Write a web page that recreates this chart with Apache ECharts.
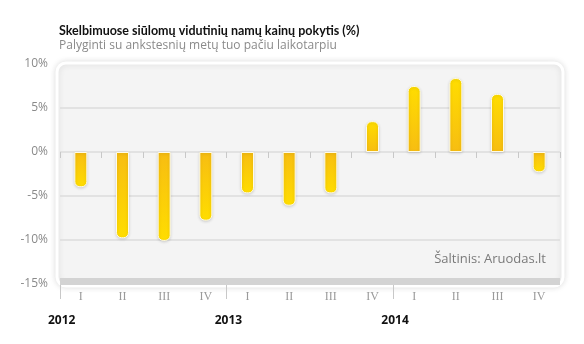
<!DOCTYPE html>
<html>
<head>
<meta charset="utf-8">
<script src="https://cdn.jsdelivr.net/npm/echarts@6/dist/echarts.min.js"></script>
<style>
  html, body { margin: 0; padding: 0; background: #fff; }
  #chart { width: 584px; height: 344px; }
</style>
</head>
<body>
<div id="chart"></div>
<script>
// Quarterly change of average asking house prices, % year on year
const quarters = ['I', 'II', 'III', 'IV', 'I', 'II', 'III', 'IV', 'I', 'II', 'III', 'IV'];
const changes = [-4.0, -9.8, -10.1, -7.8, -4.7, -6.1, -4.7, 3.5, 7.5, 8.4, 6.6, -2.3];
// Year markers sit on the boundaries between quarter groups
const yearSlots = ['2012', '', '', '', '2013', '', '', '', '2014', '', '', '', ''];
const yTicks = { min: -15, max: 10, step: 5 };

const titleText = 'Skelbimuose siūlomų vidutinių namų kainų pokytis (%)';
const subtitleText = 'Palyginti su ankstesnių metų tuo pačiu laikotarpiu';
const sourceText = 'Šaltinis: Aruodas.lt';

const FONT = '"Open Sans", "Noto Sans", sans-serif';
const DARK = '#f7bd12';
const LIGHT = '#ffdd00';

function barItem(v) {
  const neg = v < 0;
  return {
    value: v,
    itemStyle: {
      color: {
        type: 'linear', x: 0, y: 0, x2: 0, y2: 1,
        colorStops: neg
          ? [{ offset: 0, color: DARK }, { offset: 1, color: LIGHT }]
          : [{ offset: 0, color: LIGHT }, { offset: 1, color: DARK }]
      },
      borderRadius: neg ? [0, 0, 5, 5] : [5, 5, 0, 0]
    }
  };
}

const chart = echarts.init(document.getElementById('chart'), null, { renderer: 'canvas' });

const gridLeft = 60, gridRight = 24, gridTop = 64, gridBottom = 60;

chart.setOption({
  animation: false,
  backgroundColor: '#ffffff',
  title: {
    text: titleText,
    subtext: subtitleText,
    left: 54, top: 19,
    itemGap: 3,
    textStyle: { fontFamily: 'Lato, "Open Sans", sans-serif', fontSize: 12.5, fontWeight: 'bold', color: '#111' },
    subtextStyle: { fontFamily: FONT, fontSize: 12, color: '#8a8a8a' }
  },
  graphic: [
    {
      // rounded panel behind the plot
      type: 'rect', z: -10,
      shape: { x: 57, y: 63, width: 506, height: 223, r: 9 },
      style: {
        fill: '#f4f4f4', stroke: '#ffffff', lineWidth: 3,
        shadowBlur: 6, shadowColor: 'rgba(0,0,0,0.12)'
      }
    },
    {
      // grey base band along the bottom of the plot
      type: 'rect', z: 1,
      shape: { x: 60, y: 278, width: 500, height: 7 },
      style: { fill: '#d3d3d3' }
    },
    {
      type: 'text', z: 5,
      right: 38, top: 253,
      style: { text: sourceText, font: '13px ' + FONT, fill: '#7a7a7a' }
    }
  ],
  grid: { left: gridLeft, right: gridRight, top: gridTop, bottom: gridBottom, containLabel: false },
  xAxis: [
    {
      type: 'category',
      data: quarters,
      position: 'bottom',
      axisLine: { show: false },
      axisTick: { show: true, length: 6, lineStyle: { color: '#c8c8c8' } },
      axisLabel: {
        margin: 7, fontFamily: '"Liberation Serif", "DejaVu Serif", serif',
        fontSize: 12, color: '#9a9a9a'
      }
    },
    {
      type: 'category',
      data: yearSlots,
      position: 'bottom',
      boundaryGap: false,
      axisLine: { show: false },
      axisTick: {
        show: true, length: 15,
        interval: function (i) { return i % 4 === 0 && i < 12; },
        lineStyle: { color: '#c8c8c8' }
      },
      axisLabel: {
        interval: 0, margin: 31, align: 'left',
        fontFamily: FONT, fontSize: 12, fontWeight: 'bold', color: '#111',
        formatter: function (v) { return v; },
        padding: [0, 0, 0, -12]
      }
    }
  ],
  yAxis: {
    type: 'value',
    min: yTicks.min, max: yTicks.max, interval: yTicks.step,
    axisLine: { show: false },
    axisTick: { show: false },
    axisLabel: {
      margin: 12, fontFamily: FONT, fontSize: 12, color: '#8a8a8a',
      formatter: '{value}%'
    },
    splitLine: {
      show: true, showMinLine: false, showMaxLine: false,
      lineStyle: { color: '#dcdcdc', width: 1.5 }
    }
  },
  series: [{
    type: 'bar',
    xAxisIndex: 0,
    data: changes.map(barItem),
    barWidth: 13,
    itemStyle: {
      borderColor: '#fffbe6', borderWidth: 1,
      shadowBlur: 3, shadowColor: 'rgba(0,0,0,0.15)', shadowOffsetY: 1
    }
  }]
});
</script>
</body>
</html>
